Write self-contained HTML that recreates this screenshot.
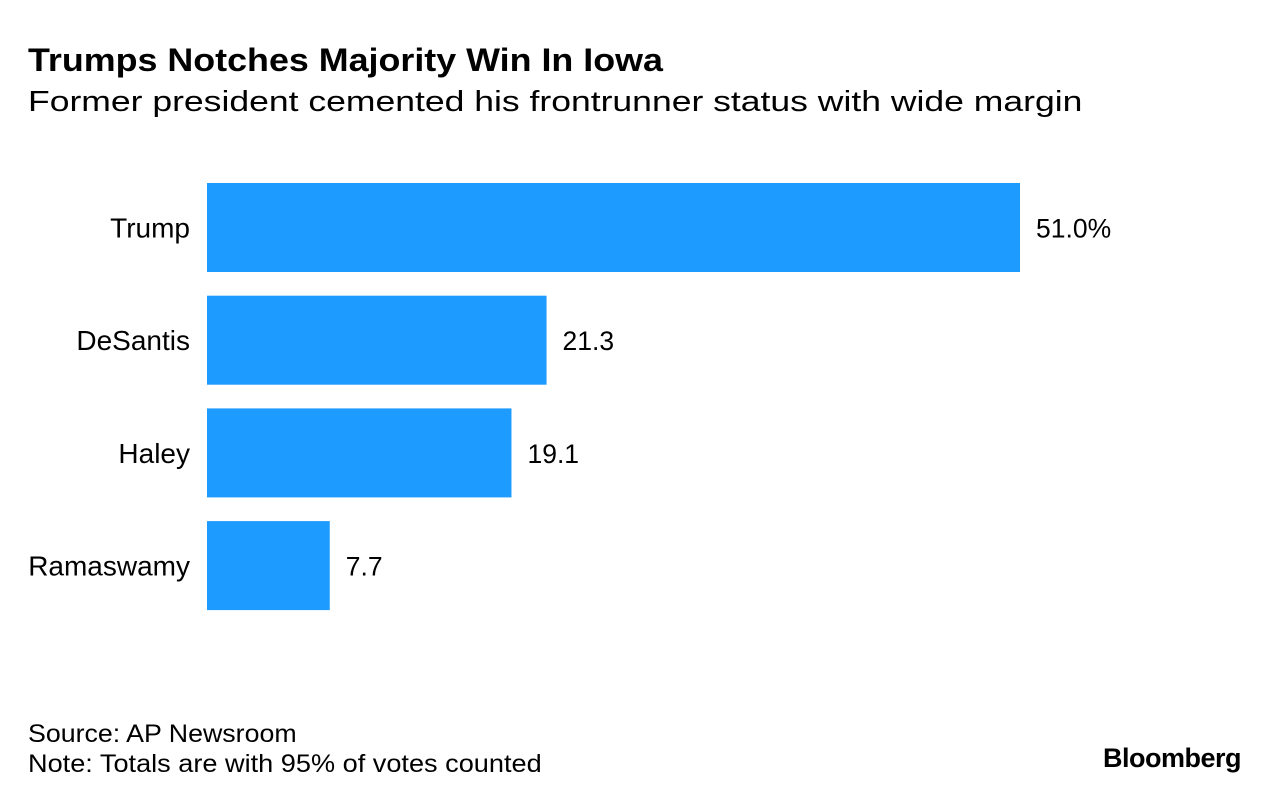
<!DOCTYPE html>
<html><head><meta charset="utf-8">
<style>
body{margin:0;width:1280px;height:804px;background:#fff;font-family:"Liberation Sans",sans-serif;color:#000;overflow:hidden;position:relative}
.t{position:absolute;white-space:nowrap;transform-origin:left top}
</style></head><body>
<div class="t" style="left:28px;top:42px;font-size:32px;font-weight:bold;transform:scaleX(1.12)">Trumps Notches Majority Win In Iowa</div>
<div class="t" style="left:28px;top:86px;font-size:29px;transform:scaleX(1.225)">Former president cemented his frontrunner status with wide margin</div>
<svg id="chart" width="1280" height="804" style="position:absolute;left:0;top:0"></svg>
<div class="t" style="left:28px;top:720px;font-size:25px;transform:scaleX(1.07)">Source: AP Newsroom</div>
<div class="t" style="left:28px;top:750px;font-size:25px;transform:scaleX(1.085)">Note: Totals are with 95% of votes counted</div>
<div class="t" style="left:1103px;top:743px;font-size:27px;font-weight:bold;letter-spacing:-0.5px">Bloomberg</div>
<script>
const categories=["Trump","DeSantis","Haley","Ramaswamy"];
const values=[51.0,21.3,19.1,7.7];
const valueLabels=["51.0%","21.3","19.1","7.7"];
const svg=document.getElementById('chart');
const NS="http://www.w3.org/2000/svg";
const x0=207, scale=813/51;
const xs=v=>x0+v*scale;
const y0=183, pitch=112.7, bh=89;
const ys=i=>y0+i*pitch;
categories.forEach((c,i)=>{
  const r=document.createElementNS(NS,'rect');
  r.setAttribute('x',x0);r.setAttribute('y',ys(i));
  r.setAttribute('width',xs(values[i])-x0);r.setAttribute('height',bh);
  r.setAttribute('fill','#1e9bff');
  
  
  svg.appendChild(r);
  const l=document.createElementNS(NS,'text');
  l.setAttribute('x',190);l.setAttribute('y',ys(i)+bh/2+10);
  l.setAttribute('text-anchor','end');l.setAttribute('font-size','28');
  l.setAttribute('font-family','Liberation Sans, sans-serif');
  l.textContent=c;
  
  
  svg.appendChild(l);
  const v=document.createElementNS(NS,'text');
  v.setAttribute('x',xs(values[i])+16);v.setAttribute('y',ys(i)+bh/2+10);
  v.setAttribute('font-size','26.5');
  v.setAttribute('font-family','Liberation Sans, sans-serif');
  v.textContent=valueLabels[i];
  
  
  svg.appendChild(v);
});
</script>
</body></html>
